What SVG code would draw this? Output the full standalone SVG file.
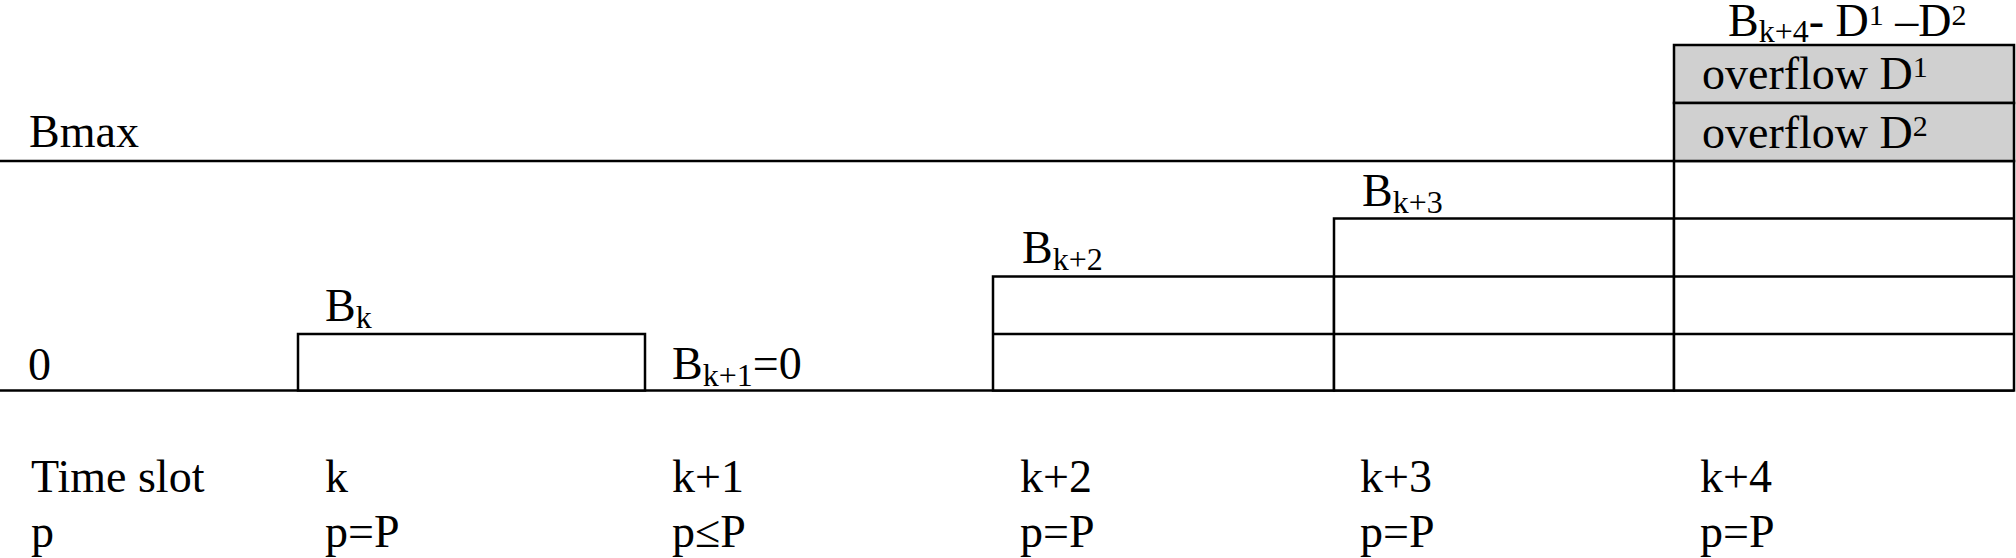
<svg xmlns="http://www.w3.org/2000/svg" width="2016" height="558" viewBox="0 0 2016 558">
<style>
text{font-family:"Liberation Serif","Times New Roman",serif;font-size:46px;fill:#000}
.sub{font-size:32px}
.sup{font-size:30px}
.ln{stroke:#000;stroke-width:2.5;fill:none}
.cell{stroke:#000;stroke-width:2.5;fill:#fff}
.gray{stroke:#000;stroke-width:2.5;fill:#d0d0d0}
</style>
<rect width="2016" height="558" fill="#fff"/>
<g id="axes">
<line class="ln" x1="0" y1="161" x2="1674" y2="161"/>
<line class="ln" x1="0" y1="390.5" x2="2014" y2="390.5"/>
<text x="29" y="147">Bmax</text>
<text x="28" y="380">0</text>
</g>
<g id="slot-k">
<rect class="cell" x="298" y="334" width="347" height="56.5"/>
<text x="325" y="321">B<tspan class="sub" dy="7">k</tspan></text>
</g>
<g id="slot-k1">
<text x="672" y="379">B<tspan class="sub" dy="7">k+1</tspan><tspan dy="-7">=0</tspan></text>
</g>
<g id="slot-k2">
<rect class="cell" x="993" y="276.5" width="341" height="114"/>
<line class="ln" x1="993" y1="334" x2="1334" y2="334"/>
<text x="1022" y="263">B<tspan class="sub" dy="7">k+2</tspan></text>
</g>
<g id="slot-k3">
<rect class="cell" x="1334" y="218.5" width="340" height="172"/>
<line class="ln" x1="1334" y1="276.5" x2="1674" y2="276.5"/>
<line class="ln" x1="1334" y1="334" x2="1674" y2="334"/>
<text x="1362" y="206">B<tspan class="sub" dy="7">k+3</tspan></text>
</g>
<g id="slot-k4">
<rect class="cell" x="1674" y="161" width="340" height="229.5"/>
<line class="ln" x1="1674" y1="218.5" x2="2014" y2="218.5"/>
<line class="ln" x1="1674" y1="276.5" x2="2014" y2="276.5"/>
<line class="ln" x1="1674" y1="334" x2="2014" y2="334"/>
<rect class="gray" x="1674" y="45" width="340" height="58"/>
<rect class="gray" x="1674" y="103" width="340" height="58"/>
<text x="1702" y="89">overflow D<tspan class="sup" dy="-12">1</tspan></text>
<text x="1702" y="148">overflow D<tspan class="sup" dy="-12">2</tspan></text>
<text x="1728" y="36">B<tspan class="sub" dy="6">k+4</tspan><tspan dy="-6">- D</tspan><tspan class="sup" dy="-11">1</tspan><tspan dy="11"> –D</tspan><tspan class="sup" dy="-11">2</tspan></text>
</g>
<g id="labels">
<text x="31" y="492">Time slot</text>
<text x="325" y="492">k</text>
<text x="672" y="492">k+1</text>
<text x="1020" y="492">k+2</text>
<text x="1360" y="492">k+3</text>
<text x="1700" y="492">k+4</text>
<text x="31" y="547">p</text>
<text x="325" y="547">p=P</text>
<text x="672" y="547">p≤P</text>
<text x="1020" y="547">p=P</text>
<text x="1360" y="547">p=P</text>
<text x="1700" y="547">p=P</text>
</g>
</svg>
